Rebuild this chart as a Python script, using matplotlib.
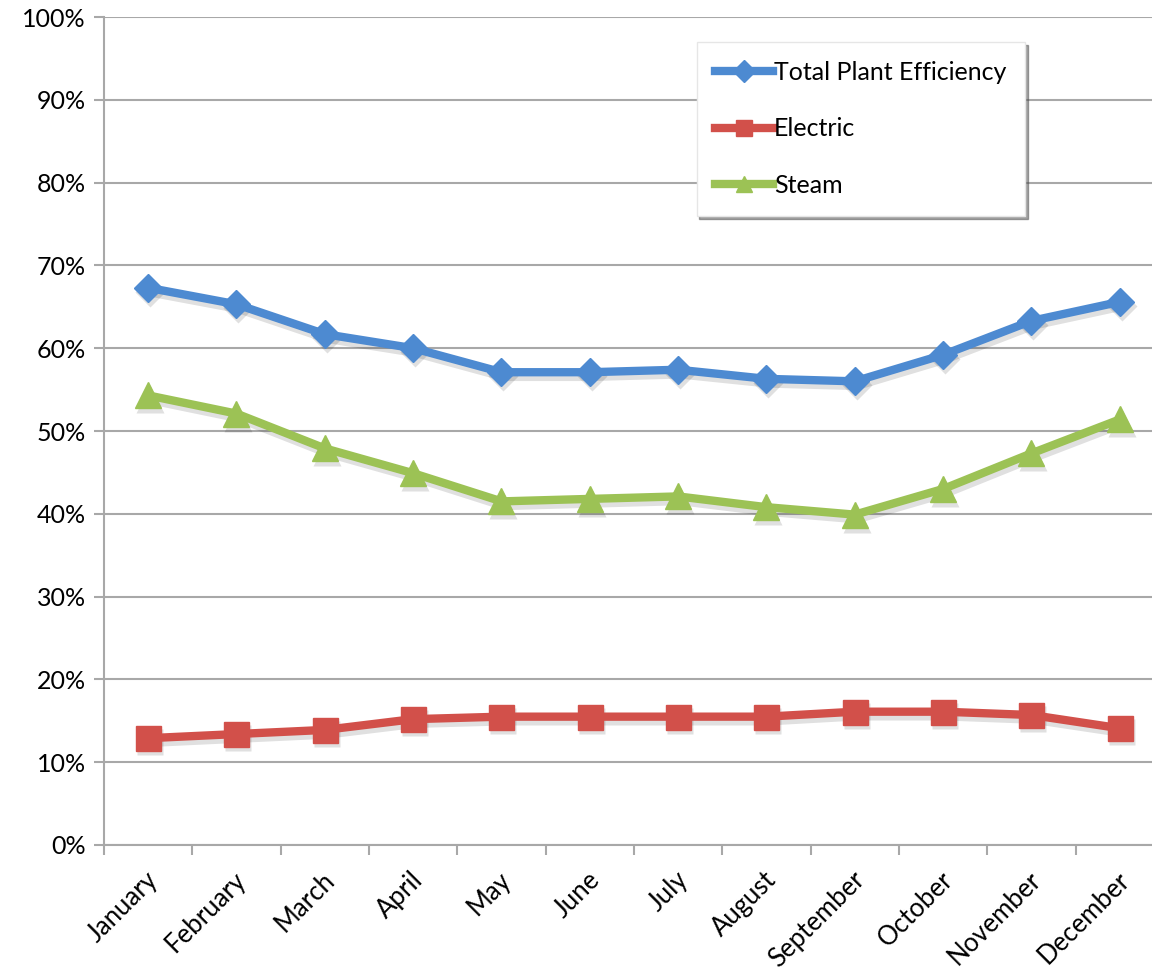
import matplotlib.pyplot as plt
import matplotlib.transforms as mtransforms
import numpy as np

plt.rcParams['font.family'] = ['Lato', 'DejaVu Sans']

months = ['January', 'February', 'March', 'April', 'May', 'June', 'July',
          'August', 'September', 'October', 'November', 'December']
total = [67.3, 65.3, 61.7, 60.0, 57.1, 57.1, 57.4, 56.3, 56.0, 59.2, 63.3, 65.6]
electric = [12.9, 13.4, 13.9, 15.2, 15.5, 15.5, 15.5, 15.5, 16.1, 16.1, 15.7, 14.1]
steam = [54.3, 52.1, 47.9, 44.9, 41.5, 41.8, 42.1, 40.8, 39.9, 43.0, 47.3, 51.4]

fig = plt.figure(figsize=(11.52, 9.71), dpi=100)
# plot area runs a little past the right edge of the canvas
ax = fig.add_axes([104/1152, 1-845/971, 1060/1152, 828/971])

x = np.arange(len(months))
series = [
    (total, '#4d8ad1', 'D', 14, 'Total Plant Efficiency'),
    (electric, '#d2504a', 's', 18, 'Electric'),
    (steam, '#9cc255', '^', 19, 'Steam'),
]

# soft drop shadow: same series, shifted down-right
shift = ax.transData + mtransforms.ScaledTranslation(2/100, -4/100, fig.dpi_scale_trans)
for vals, col, mk, ms, name in series:
    ax.plot(x, vals, color='k', alpha=0.12, lw=7, marker=mk, ms=ms + 1,
            mec='none', transform=shift, zorder=3)
for vals, col, mk, ms, name in series:
    ax.plot(x, vals, color=col, lw=6, marker=mk, ms=ms, mec=col,
            label=name, zorder=4)

ax.set_xlim(-0.5, len(months) - 0.5)
ax.set_ylim(0, 100)
ax.set_yticks(range(0, 101, 10))
ax.set_yticklabels([f'{v}%' for v in range(0, 101, 10)], fontsize=18)
ax.yaxis.grid(True, color='#a8a8a8', lw=1.5)
ax.set_axisbelow(True)

ax.set_xticks(x)
ax.set_xticks(np.arange(-0.5, len(months), 1), minor=True)
ax.tick_params(axis='x', which='major', length=0, pad=16)
ax.tick_params(axis='x', which='minor', length=7, width=1.5, color='#a8a8a8')
ax.tick_params(axis='y', length=7, width=1.5, color='#a8a8a8', pad=6)
ax.set_xticklabels(months, fontsize=18.5, rotation=45, ha='right',
                   rotation_mode='anchor')
offset = mtransforms.ScaledTranslation(-3/100, 0, fig.dpi_scale_trans)
for lbl in ax.get_xticklabels():
    lbl.set_transform(lbl.get_transform() + offset)

for s in ['top', 'right']:
    ax.spines[s].set_visible(False)
for s in ['left', 'bottom']:
    ax.spines[s].set_color('#a8a8a8')
    ax.spines[s].set_linewidth(1.5)

leg = ax.legend(loc='upper left', bbox_to_anchor=(0.559, 0.97), borderaxespad=0,
                fontsize=18, handlelength=2.3, handletextpad=0.05,
                labelspacing=1.35, borderpad=0.75, fancybox=False, shadow=True,
                framealpha=1, edgecolor='#e6e6e6')
leg.get_frame().set_linewidth(1.0)
for h in leg.legend_handles:
    h.set_markersize(11)

fig.savefig('out.png', dpi=100)
